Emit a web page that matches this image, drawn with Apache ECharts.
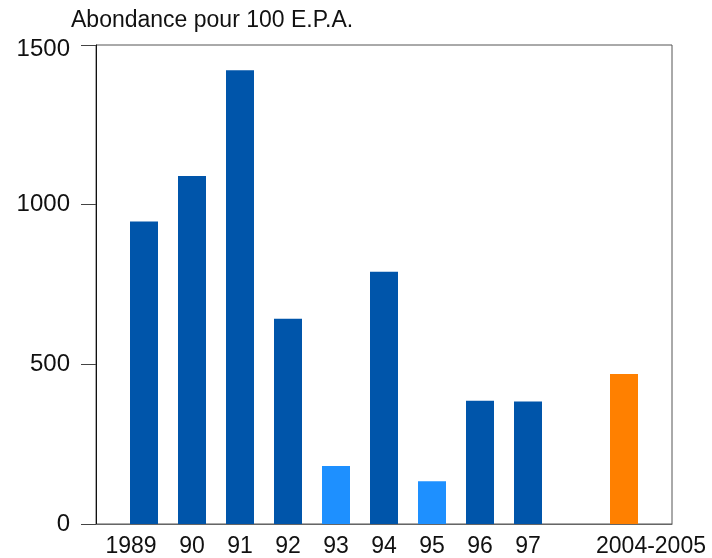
<!DOCTYPE html>
<html>
<head>
<meta charset="utf-8">
<script src="https://cdn.jsdelivr.net/npm/echarts@6/dist/echarts.min.js"></script>
<style>
  html, body { margin: 0; padding: 0; background: #fff; }
  #chart { width: 712px; height: 558px; }
</style>
</head>
<body>
<div id="chart"></div>
<script>
// categories (empty ones are spacer slots on the axis)
var categories = ['', '1989', '90', '91', '92', '93', '94', '95', '96', '97', '', '2004-2005', '']
// abundance per 100 E.P.A.
var abundance = [null, 947, 1090, 1421, 643, 182, 790, 134, 386, 384, null, 470, null]
// which group each bar belongs to
var groups = ['', 'main', 'main', 'main', 'main', 'low', 'main', 'low', 'main', 'main', '', 'recent', '']
var yTicks = [0, 500, 1000, 1500]

var groupColor = {
  main: '#0055aa',
  low: '#1e90ff',
  recent: '#ff8000'
}

var barData = abundance.map(function (v, i) {
  if (v === null) return null
  return { value: v, itemStyle: { color: groupColor[groups[i]] } }
})

var myChart = echarts.init(document.getElementById('chart'))
var option = {
  backgroundColor: '#fff',
  animation: false,
  textStyle: { fontFamily: 'Liberation Sans, Arial, sans-serif' },
  title: {
    text: 'Abondance pour 100 E.P.A.',
    left: 66,
    top: 4,
    textStyle: { fontSize: 23, fontWeight: 'normal', color: '#111' }
  },
  grid: {
    left: 96,
    right: 40,
    top: 45,
    bottom: 33,
    show: true,
    borderColor: '#555',
    borderWidth: 1
  },
  xAxis: {
    type: 'category',
    data: categories,
    boundaryGap: false,
    axisLine: { lineStyle: { color: '#666', width: 1 } },
    axisTick: { show: false },
    axisLabel: {
      interval: 0,
      margin: 11,
      fontSize: 23,
      color: '#111',
      // first and last labels sit off-centre in the original
      formatter: function (val, idx) {
        if (idx === 1) return '{first|' + val + '}'
        if (idx === 11) return '{last|' + val + '}'
        return val
      },
      rich: {
        first: { fontSize: 23, color: '#111', padding: [0, 26, 0, 0] },
        last: { fontSize: 23, color: '#111', padding: [0, 0, 0, 54] }
      }
    },
    splitLine: { show: false }
  },
  yAxis: {
    type: 'value',
    min: yTicks[0],
    max: yTicks[yTicks.length - 1],
    interval: yTicks[1] - yTicks[0],
    axisLine: { show: true, lineStyle: { color: '#111', width: 1 } },
    axisTick: { show: true, length: 15, lineStyle: { color: '#444' } },
    axisLabel: {
      margin: 26,
      fontSize: 24,
      color: '#111',
      formatter: function (val) {
        if (val === yTicks[yTicks.length - 1]) return '{top|' + val + '}'
        return String(val)
      },
      rich: {
        top: { fontSize: 24, color: '#111', padding: [8, 0, 0, 0] }
      }
    },
    splitLine: { show: false }
  },
  series: [
    {
      type: 'bar',
      barWidth: 28,
      data: barData
    }
  ]
}
myChart.setOption(option)
</script>
</body>
</html>
